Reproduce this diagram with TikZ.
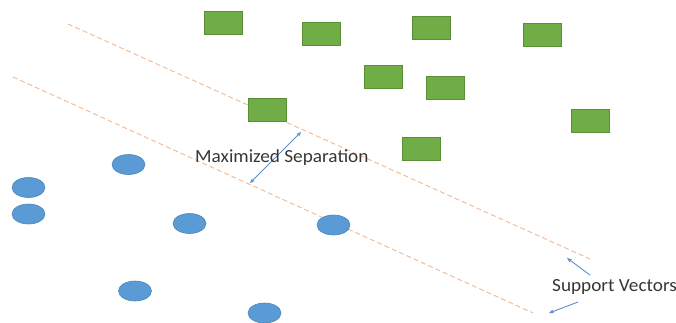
\documentclass[tikz,border=0pt]{standalone}
\usepackage{fontspec}
\setmainfont{Carlito}
\usetikzlibrary{shapes.geometric,arrows.meta}
\definecolor{sqgreen}{HTML}{70AD47}
\definecolor{sqedge}{HTML}{5A8F38}
\definecolor{dotblue}{HTML}{5B9BD5}
\definecolor{dotedge}{HTML}{4A85BD}
\definecolor{margin}{HTML}{F2B890}
\definecolor{arrblue}{HTML}{5B8FC9}
\definecolor{txt}{HTML}{363636}
\tikzset{
  sq/.style={rectangle, fill=sqgreen, draw=sqedge, line width=0.6pt, minimum width=38pt, minimum height=23pt, inner sep=0pt},
  dot/.style={ellipse, fill=dotblue, draw=dotedge, line width=0.6pt, minimum width=33pt, minimum height=20pt, inner sep=0pt},
  marginline/.style={margin, line width=0.9pt, dash pattern=on 5pt off 3pt},
  pointer/.style={arrblue, line width=0.9pt, -{Stealth[length=5pt,width=4pt]}},
  lbl/.style={text=txt, font=\addfontfeature{FakeStretch=1.04}\fontsize{18.5}{21}\selectfont, inner sep=0pt, anchor=west}
}
\begin{document}
\begin{tikzpicture}[x=1pt,y=-1pt]
\useasboundingbox (0,0) rectangle (676,322);
% margin lines
\coordinate (u1) at (68,24);
\coordinate (u2) at (590,259);
\coordinate (l1) at (13,77);
\coordinate (l2) at (533,313);
\draw[marginline] (u1) -- (u2);
\draw[marginline] (l1) -- (l2);
% green squares
\node[sq] (g1) at (223.5,23) {};
\node[sq] (g2) at (321.5,33.5) {};
\node[sq] (g3) at (267,109.5) {};
\node[sq] (g4) at (431,27.5) {};
\node[sq] (g5) at (542.5,34.5) {};
\node[sq] (g6) at (383,77) {};
\node[sq] (g7) at (445,87.5) {};
\node[sq] (g8) at (590.5,120.5) {};
\node[sq] (g9) at (421,149) {};
% blue dots
\node[dot] (b1) at (128.5,164.5) {};
\node[dot] (b2) at (28.5,187.5) {};
\node[dot] (b3) at (28.5,214) {};
\node[dot] (b4) at (189.5,223.5) {};
\node[dot] (b5) at (333.5,225) {};
\node[dot] (b6) at (135,291) {};
\node[dot] (b7) at (264.5,313) {};
% maximized separation
\coordinate (s1) at (250,183);
\coordinate (s2) at (301,132);
\draw[pointer, {Stealth[length=5pt,width=4pt]}-{Stealth[length=5pt,width=4pt]}] (s1) -- (s2);
\node[lbl] (ms) at (195,158) {Maximized Separation};
% support vectors
\node[lbl] (sv) at (552,287) {Support Vectors};
\coordinate (a1t) at (590,275);
\coordinate (a1h) at (567,258);
\coordinate (a2t) at (578,302);
\coordinate (a2h) at (549,313);
\draw[pointer] (a1t) -- (a1h);
\draw[pointer] (a2t) -- (a2h);
\end{tikzpicture}
\end{document}
